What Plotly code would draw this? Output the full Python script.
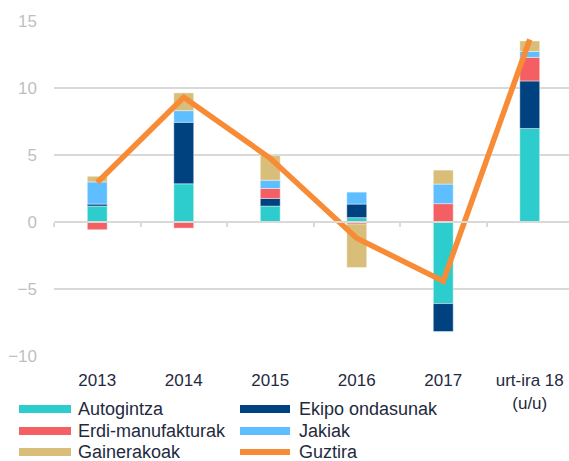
import plotly.graph_objects as go

categories = ["2013", "2014", "2015", "2016", "2017", "urt-ira 18<br>(u/u)"]
autogintza = [1.19, 2.85, 1.19, 0.33, -6.07, 6.97]
ekipo = [0.15, 4.58, 0.57, 1.01, -2.08, 3.54]
erdi = [-0.57, -0.45, 0.74, -0.15, 1.37, 1.76]
jakiak = [1.65, 0.87, 0.62, 0.89, 1.46, 0.44]
gainerakoak = [0.42, 1.32, 1.85, -3.24, 1.04, 0.78]
guztira = [2.95, 9.3, 4.75, -1.2, -4.4, 13.6]
y_ticks = [-10, -5, 0, 5, 10, 15]

series = [
    ("Autogintza", autogintza, "#2ECDCD"),
    ("Ekipo ondasunak", ekipo, "#00427F"),
    ("Erdi-manufakturak", erdi, "#F45F63"),
    ("Jakiak", jakiak, "#5FBEFF"),
    ("Gainerakoak", gainerakoak, "#D8BE78"),
]
line_color = "#F78B36"
FONT = "Liberation Sans, Arial, sans-serif"
TXT = "#1f2a40"

W, H = 569, 461
ML, MR, MT, MB = 54, 0, 20, 104
pw, ph = W - ML - MR, H - MT - MB
ymin, ymax = -10.05, 15.05

fig = go.Figure()
for name, vals, col in series:
    fig.add_trace(go.Bar(x=categories, y=vals, name=name, marker_color=col,
                         marker_line_color="rgba(255,255,255,0.7)", marker_line_width=0.6,
                         width=0.23, showlegend=False, xaxis="x", yaxis="y"))
fig.add_trace(go.Scatter(x=categories, y=guztira, name="Guztira", mode="lines",
                         line=dict(color=line_color, width=5.5), showlegend=False,
                         xaxis="x2", yaxis="y"))

def px2x(px):
    return (px - ML) / pw

def px2y(py):
    return (H - MB - py) / ph

# custom legend (2 columns x 3 rows)
legend_items = [(n, c) for n, _, c in series] + [("Guztira", line_color)]
col_sym = [(19, 71, 76), (240, 290, 297)]
row_y = [409, 431, 452]
order = [(0, 0), (0, 1), (1, 0), (1, 1), (2, 0), (2, 1)]
shapes, annotations = [], []
for (name, col), (r, c) in zip(legend_items, order):
    x0, x1, xt = col_sym[c]
    yy = px2y(row_y[r])
    shapes.append(dict(type="line", xref="paper", yref="paper", x0=px2x(x0), x1=px2x(x1),
                       y0=yy, y1=yy, line=dict(color=col, width=8 if name != "Guztira" else 6)))
    annotations.append(dict(xref="paper", yref="paper", x=px2x(xt), y=yy, text=name,
                            showarrow=False, xanchor="left", yanchor="middle",
                            font=dict(family=FONT, size=18, color=TXT)))

zero_pos = (0 - ymin) / (ymax - ymin)
ncat = pw / 86.5

fig.update_layout(
    width=W, height=H,
    margin=dict(l=ML, r=MR, t=MT, b=MB),
    paper_bgcolor="white", plot_bgcolor="white",
    barmode="relative",
    showlegend=False,
    font=dict(family=FONT),
    shapes=shapes, annotations=annotations,
    xaxis=dict(type="category", range=[-0.5, -0.5 + ncat], showgrid=False, showline=False,
               zeroline=False, ticks="outside", ticklen=8, tickcolor="rgba(0,0,0,0)",
               tickfont=dict(family=FONT, size=17, color=TXT)),
    xaxis2=dict(type="category", matches="x", overlaying="x", anchor="free", position=zero_pos,
                showline=True, linecolor="#d9d9d9", linewidth=1.5, ticks="outside",
                tickson="boundaries", ticklen=4, tickcolor="#d9d9d9", tickwidth=1.5,
                showticklabels=False, showgrid=False, zeroline=False),
    yaxis=dict(range=[ymin, ymax], tickvals=y_ticks, showgrid=True, gridcolor="#d9d9d9",
               gridwidth=1.5, zeroline=False, showline=False, ticks="",
               ticklabelstandoff=16,
               tickfont=dict(family=FONT, size=17, color="#bfbfbf")),
)

fig.write_html("out.html", config={"displayModeBar": False},
               post_script="document.body.style.margin='0';document.body.style.overflow='hidden';")
